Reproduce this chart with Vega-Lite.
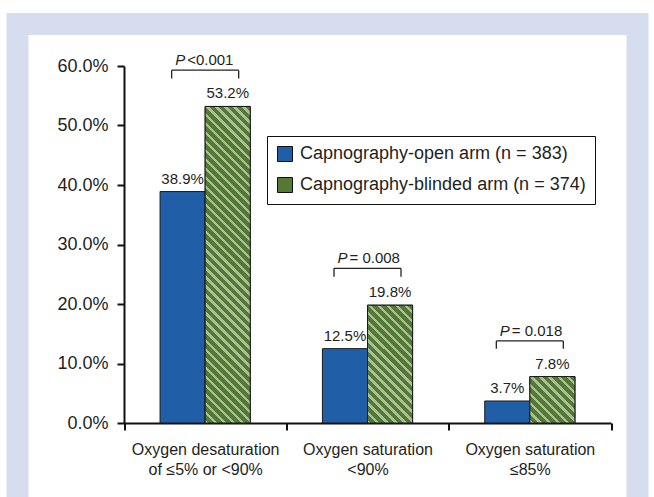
{
  "$schema": "https://vega.github.io/schema/vega-lite/v6.json",
  "autosize": {"type": "none"},
  "width": 620,
  "height": 490,
  "padding": {"left": 17.5, "top": 24, "right": 16.5, "bottom": -17},
  "background": "white",
  "config": {
    "font": "Liberation Sans",
    "view": {"fill": "white", "stroke": "#d5ddee", "strokeWidth": 22},
    "axis": {"grid": false, "domainColor": "#111111", "tickColor": "#111111", "domainWidth": 2, "tickWidth": 2, "tickSize": 7, "labelColor": "#231f20", "labelFont": "Liberation Sans"}
  },
  "datasets": {
    "bars": [
      {"cat": "Oxygen desaturation|of ≤5% or <90%", "arm": "open", "value": 38.9},
      {"cat": "Oxygen desaturation|of ≤5% or <90%", "arm": "blind", "value": 53.2},
      {"cat": "Oxygen saturation|<90%", "arm": "open", "value": 12.5},
      {"cat": "Oxygen saturation|<90%", "arm": "blind", "value": 19.8},
      {"cat": "Oxygen saturation|≤85%", "arm": "open", "value": 3.7},
      {"cat": "Oxygen saturation|≤85%", "arm": "blind", "value": 7.8}
    ],
    "brackets": [
      {"cat": "Oxygen desaturation|of ≤5% or <90%", "top": 59.3, "bottom": 57.9, "p": "<0.001"},
      {"cat": "Oxygen saturation|<90%", "top": 26.0, "bottom": 24.6, "p": "= 0.008"},
      {"cat": "Oxygen saturation|≤85%", "top": 13.8, "bottom": 12.5, "p": "= 0.018"}
    ]
  },
  "layer": [
    {
      "data": {"name": "bars"},
      "mark": {"type": "bar", "stroke": "#1a1a1a", "strokeWidth": 1},
      "encoding": {
        "x": {"field": "cat", "type": "nominal", "title": null,
          "scale": {"domain": ["Oxygen desaturation|of ≤5% or <90%", "Oxygen saturation|<90%", "Oxygen saturation|≤85%"], "range": [106.5, 593.5], "paddingInner": 0, "paddingOuter": 0},
          "axis": {"title": null, "orient": "bottom", "offset": -91, "labelAngle": 0, "labelExpr": "datum.value ? split(datum.value, '|') : ''", "tickBand": "extent", "labelFontSize": 16, "labelLineHeight": 20.5, "labelPadding": 11, "labelBaseline": "top"}},
        "xOffset": {"field": "arm", "type": "nominal", "scale": {"domain": ["open", "blind"], "paddingInner": 0, "paddingOuter": 0.8}},
        "y": {"field": "value", "type": "quantitative", "title": null,
          "scale": {"domain": [0, 60], "range": [399, 42], "nice": false, "zero": true},
          "axis": {"title": null, "orient": "left", "offset": -106.5, "values": [0, 10, 20, 30, 40, 50, 60], "labelExpr": "format(datum.value, '.1f') + '%'", "labelFontSize": 18, "labelPadding": 9}},
        "color": {"field": "arm", "type": "nominal",
          "scale": {"domain": ["open", "blind"], "range": ["#215ea8", "#537934"]},
          "legend": {"orient": "none", "legendX": 249.5, "legendY": 112, "title": null, "symbolType": "square", "symbolSize": 225, "labelFontSize": 18, "labelColor": "#231f20", "labelOffset": 6, "labelLimit": 400, "rowPadding": 11, "padding": 9, "strokeColor": "#111111", "symbolStrokeColor": "#111111", "symbolStrokeWidth": 1,
            "labelExpr": "datum.value === 'open' ? 'Capnography-open arm (n = 383)' : 'Capnography-blinded arm (n = 374)'",
            "encode": {"symbols": {"update": {
              "fill": [
                {"test": "datum.value === 'blind'", "value": {"gradient": "linear", "x1": 0, "y1": 1, "x2": 1, "y2": 0, "stops": [
                  {"offset": 0, "color": "#a9c096"}, {"offset": 0.114, "color": "#a9c096"}, {"offset": 0.114, "color": "#537934"}, {"offset": 0.3333, "color": "#537934"},
                  {"offset": 0.3333, "color": "#a9c096"}, {"offset": 0.4473, "color": "#a9c096"}, {"offset": 0.4473, "color": "#537934"}, {"offset": 0.6667, "color": "#537934"},
                  {"offset": 0.6667, "color": "#a9c096"}, {"offset": 0.7807, "color": "#a9c096"}, {"offset": 0.7807, "color": "#537934"}, {"offset": 1, "color": "#537934"}]}},
                {"value": "#215ea8"}],
              "stroke": {"value": "#111111"},
              "strokeWidth": {"value": 1}}}}
          }}
      }
    },
    {
      "data": {"name": "bars"},
      "transform": [{"filter": "datum.arm === 'blind'"}],
      "mark": {"type": "bar", "stroke": "#1a1a1a", "strokeWidth": 1},
      "encoding": {
        "x": {"field": "cat", "type": "nominal", "title": null},
        "xOffset": {"field": "arm", "type": "nominal", "scale": {"domain": ["open", "blind"], "paddingInner": 0, "paddingOuter": 0.8}},
        "y": {"field": "value", "type": "quantitative", "title": null},
        "fill": {
          "condition": [
            {"test": "datum.value > 50", "value": {"gradient": "linear", "x1": 0, "y1": 1, "x2": 0.1595, "y2": -0.11972, "stops": [
              {"offset": 0, "color": "#a9c096"}, {"offset": 0.0095, "color": "#a9c096"}, {"offset": 0.0095, "color": "#537934"}, {"offset": 0.025, "color": "#537934"},
              {"offset": 0.025, "color": "#a9c096"}, {"offset": 0.0345, "color": "#a9c096"}, {"offset": 0.0345, "color": "#537934"}, {"offset": 0.05, "color": "#537934"},
              {"offset": 0.05, "color": "#a9c096"}, {"offset": 0.0595, "color": "#a9c096"}, {"offset": 0.0595, "color": "#537934"}, {"offset": 0.075, "color": "#537934"},
              {"offset": 0.075, "color": "#a9c096"}, {"offset": 0.0845, "color": "#a9c096"}, {"offset": 0.0845, "color": "#537934"}, {"offset": 0.1, "color": "#537934"},
              {"offset": 0.1, "color": "#a9c096"}, {"offset": 0.1095, "color": "#a9c096"}, {"offset": 0.1095, "color": "#537934"}, {"offset": 0.125, "color": "#537934"},
              {"offset": 0.125, "color": "#a9c096"}, {"offset": 0.1345, "color": "#a9c096"}, {"offset": 0.1345, "color": "#537934"}, {"offset": 0.15, "color": "#537934"},
              {"offset": 0.15, "color": "#a9c096"}, {"offset": 0.1595, "color": "#a9c096"}, {"offset": 0.1595, "color": "#537934"}, {"offset": 0.175, "color": "#537934"},
              {"offset": 0.175, "color": "#a9c096"}, {"offset": 0.1845, "color": "#a9c096"}, {"offset": 0.1845, "color": "#537934"}, {"offset": 0.2, "color": "#537934"},
              {"offset": 0.2, "color": "#a9c096"}, {"offset": 0.2095, "color": "#a9c096"}, {"offset": 0.2095, "color": "#537934"}, {"offset": 0.225, "color": "#537934"},
              {"offset": 0.225, "color": "#a9c096"}, {"offset": 0.2345, "color": "#a9c096"}, {"offset": 0.2345, "color": "#537934"}, {"offset": 0.25, "color": "#537934"},
              {"offset": 0.25, "color": "#a9c096"}, {"offset": 0.2595, "color": "#a9c096"}, {"offset": 0.2595, "color": "#537934"}, {"offset": 0.275, "color": "#537934"},
              {"offset": 0.275, "color": "#a9c096"}, {"offset": 0.2845, "color": "#a9c096"}, {"offset": 0.2845, "color": "#537934"}, {"offset": 0.3, "color": "#537934"},
              {"offset": 0.3, "color": "#a9c096"}, {"offset": 0.3095, "color": "#a9c096"}, {"offset": 0.3095, "color": "#537934"}, {"offset": 0.325, "color": "#537934"},
              {"offset": 0.325, "color": "#a9c096"}, {"offset": 0.3345, "color": "#a9c096"}, {"offset": 0.3345, "color": "#537934"}, {"offset": 0.35, "color": "#537934"},
              {"offset": 0.35, "color": "#a9c096"}, {"offset": 0.3595, "color": "#a9c096"}, {"offset": 0.3595, "color": "#537934"}, {"offset": 0.375, "color": "#537934"},
              {"offset": 0.375, "color": "#a9c096"}, {"offset": 0.3845, "color": "#a9c096"}, {"offset": 0.3845, "color": "#537934"}, {"offset": 0.4, "color": "#537934"},
              {"offset": 0.4, "color": "#a9c096"}, {"offset": 0.4095, "color": "#a9c096"}, {"offset": 0.4095, "color": "#537934"}, {"offset": 0.425, "color": "#537934"},
              {"offset": 0.425, "color": "#a9c096"}, {"offset": 0.4345, "color": "#a9c096"}, {"offset": 0.4345, "color": "#537934"}, {"offset": 0.45, "color": "#537934"},
              {"offset": 0.45, "color": "#a9c096"}, {"offset": 0.4595, "color": "#a9c096"}, {"offset": 0.4595, "color": "#537934"}, {"offset": 0.475, "color": "#537934"},
              {"offset": 0.475, "color": "#a9c096"}, {"offset": 0.4845, "color": "#a9c096"}, {"offset": 0.4845, "color": "#537934"}, {"offset": 0.5, "color": "#537934"},
              {"offset": 0.5, "color": "#a9c096"}, {"offset": 0.5095, "color": "#a9c096"}, {"offset": 0.5095, "color": "#537934"}, {"offset": 0.525, "color": "#537934"},
              {"offset": 0.525, "color": "#a9c096"}, {"offset": 0.5345, "color": "#a9c096"}, {"offset": 0.5345, "color": "#537934"}, {"offset": 0.55, "color": "#537934"},
              {"offset": 0.55, "color": "#a9c096"}, {"offset": 0.5595, "color": "#a9c096"}, {"offset": 0.5595, "color": "#537934"}, {"offset": 0.575, "color": "#537934"},
              {"offset": 0.575, "color": "#a9c096"}, {"offset": 0.5845, "color": "#a9c096"}, {"offset": 0.5845, "color": "#537934"}, {"offset": 0.6, "color": "#537934"},
              {"offset": 0.6, "color": "#a9c096"}, {"offset": 0.6095, "color": "#a9c096"}, {"offset": 0.6095, "color": "#537934"}, {"offset": 0.625, "color": "#537934"},
              {"offset": 0.625, "color": "#a9c096"}, {"offset": 0.6345, "color": "#a9c096"}, {"offset": 0.6345, "color": "#537934"}, {"offset": 0.65, "color": "#537934"},
              {"offset": 0.65, "color": "#a9c096"}, {"offset": 0.6595, "color": "#a9c096"}, {"offset": 0.6595, "color": "#537934"}, {"offset": 0.675, "color": "#537934"},
              {"offset": 0.675, "color": "#a9c096"}, {"offset": 0.6845, "color": "#a9c096"}, {"offset": 0.6845, "color": "#537934"}, {"offset": 0.7, "color": "#537934"},
              {"offset": 0.7, "color": "#a9c096"}, {"offset": 0.7095, "color": "#a9c096"}, {"offset": 0.7095, "color": "#537934"}, {"offset": 0.725, "color": "#537934"},
              {"offset": 0.725, "color": "#a9c096"}, {"offset": 0.7345, "color": "#a9c096"}, {"offset": 0.7345, "color": "#537934"}, {"offset": 0.75, "color": "#537934"},
              {"offset": 0.75, "color": "#a9c096"}, {"offset": 0.7595, "color": "#a9c096"}, {"offset": 0.7595, "color": "#537934"}, {"offset": 0.775, "color": "#537934"},
              {"offset": 0.775, "color": "#a9c096"}, {"offset": 0.7845, "color": "#a9c096"}, {"offset": 0.7845, "color": "#537934"}, {"offset": 0.8, "color": "#537934"},
              {"offset": 0.8, "color": "#a9c096"}, {"offset": 0.8095, "color": "#a9c096"}, {"offset": 0.8095, "color": "#537934"}, {"offset": 0.825, "color": "#537934"},
              {"offset": 0.825, "color": "#a9c096"}, {"offset": 0.8345, "color": "#a9c096"}, {"offset": 0.8345, "color": "#537934"}, {"offset": 0.85, "color": "#537934"},
              {"offset": 0.85, "color": "#a9c096"}, {"offset": 0.8595, "color": "#a9c096"}, {"offset": 0.8595, "color": "#537934"}, {"offset": 0.875, "color": "#537934"},
              {"offset": 0.875, "color": "#a9c096"}, {"offset": 0.8845, "color": "#a9c096"}, {"offset": 0.8845, "color": "#537934"}, {"offset": 0.9, "color": "#537934"},
              {"offset": 0.9, "color": "#a9c096"}, {"offset": 0.9095, "color": "#a9c096"}, {"offset": 0.9095, "color": "#537934"}, {"offset": 0.925, "color": "#537934"},
              {"offset": 0.925, "color": "#a9c096"}, {"offset": 0.9345, "color": "#a9c096"}, {"offset": 0.9345, "color": "#537934"}, {"offset": 0.95, "color": "#537934"},
              {"offset": 0.95, "color": "#a9c096"}, {"offset": 0.9595, "color": "#a9c096"}, {"offset": 0.9595, "color": "#537934"}, {"offset": 0.975, "color": "#537934"},
              {"offset": 0.975, "color": "#a9c096"}, {"offset": 0.9845, "color": "#a9c096"}, {"offset": 0.9845, "color": "#537934"}, {"offset": 1, "color": "#537934"}]}},
            {"test": "datum.value > 15", "value": {"gradient": "linear", "x1": 0, "y1": 1, "x2": 0.4616, "y2": -0.20604, "stops": [
              {"offset": 0, "color": "#a9c096"}, {"offset": 0.0211, "color": "#a9c096"}, {"offset": 0.0211, "color": "#537934"}, {"offset": 0.05556, "color": "#537934"},
              {"offset": 0.05556, "color": "#a9c096"}, {"offset": 0.07666, "color": "#a9c096"}, {"offset": 0.07666, "color": "#537934"}, {"offset": 0.11111, "color": "#537934"},
              {"offset": 0.11111, "color": "#a9c096"}, {"offset": 0.13221, "color": "#a9c096"}, {"offset": 0.13221, "color": "#537934"}, {"offset": 0.16667, "color": "#537934"},
              {"offset": 0.16667, "color": "#a9c096"}, {"offset": 0.18777, "color": "#a9c096"}, {"offset": 0.18777, "color": "#537934"}, {"offset": 0.22222, "color": "#537934"},
              {"offset": 0.22222, "color": "#a9c096"}, {"offset": 0.24332, "color": "#a9c096"}, {"offset": 0.24332, "color": "#537934"}, {"offset": 0.27778, "color": "#537934"},
              {"offset": 0.27778, "color": "#a9c096"}, {"offset": 0.29888, "color": "#a9c096"}, {"offset": 0.29888, "color": "#537934"}, {"offset": 0.33333, "color": "#537934"},
              {"offset": 0.33333, "color": "#a9c096"}, {"offset": 0.35443, "color": "#a9c096"}, {"offset": 0.35443, "color": "#537934"}, {"offset": 0.38889, "color": "#537934"},
              {"offset": 0.38889, "color": "#a9c096"}, {"offset": 0.40999, "color": "#a9c096"}, {"offset": 0.40999, "color": "#537934"}, {"offset": 0.44444, "color": "#537934"},
              {"offset": 0.44444, "color": "#a9c096"}, {"offset": 0.46554, "color": "#a9c096"}, {"offset": 0.46554, "color": "#537934"}, {"offset": 0.5, "color": "#537934"},
              {"offset": 0.5, "color": "#a9c096"}, {"offset": 0.5211, "color": "#a9c096"}, {"offset": 0.5211, "color": "#537934"}, {"offset": 0.55556, "color": "#537934"},
              {"offset": 0.55556, "color": "#a9c096"}, {"offset": 0.57666, "color": "#a9c096"}, {"offset": 0.57666, "color": "#537934"}, {"offset": 0.61111, "color": "#537934"},
              {"offset": 0.61111, "color": "#a9c096"}, {"offset": 0.63221, "color": "#a9c096"}, {"offset": 0.63221, "color": "#537934"}, {"offset": 0.66667, "color": "#537934"},
              {"offset": 0.66667, "color": "#a9c096"}, {"offset": 0.68777, "color": "#a9c096"}, {"offset": 0.68777, "color": "#537934"}, {"offset": 0.72222, "color": "#537934"},
              {"offset": 0.72222, "color": "#a9c096"}, {"offset": 0.74332, "color": "#a9c096"}, {"offset": 0.74332, "color": "#537934"}, {"offset": 0.77778, "color": "#537934"},
              {"offset": 0.77778, "color": "#a9c096"}, {"offset": 0.79888, "color": "#a9c096"}, {"offset": 0.79888, "color": "#537934"}, {"offset": 0.83333, "color": "#537934"},
              {"offset": 0.83333, "color": "#a9c096"}, {"offset": 0.85443, "color": "#a9c096"}, {"offset": 0.85443, "color": "#537934"}, {"offset": 0.88889, "color": "#537934"},
              {"offset": 0.88889, "color": "#a9c096"}, {"offset": 0.90999, "color": "#a9c096"}, {"offset": 0.90999, "color": "#537934"}, {"offset": 0.94444, "color": "#537934"},
              {"offset": 0.94444, "color": "#a9c096"}, {"offset": 0.96554, "color": "#a9c096"}, {"offset": 0.96554, "color": "#537934"}, {"offset": 1, "color": "#537934"}]}}
          ],
          "value": {"gradient": "linear", "x1": 0, "y1": 1, "x2": 0.98535, "y2": -0.0142, "stops": [
            {"offset": 0, "color": "#a9c096"}, {"offset": 0.0375, "color": "#a9c096"}, {"offset": 0.0375, "color": "#537934"}, {"offset": 0.1, "color": "#537934"},
            {"offset": 0.1, "color": "#a9c096"}, {"offset": 0.1375, "color": "#a9c096"}, {"offset": 0.1375, "color": "#537934"}, {"offset": 0.2, "color": "#537934"},
            {"offset": 0.2, "color": "#a9c096"}, {"offset": 0.2375, "color": "#a9c096"}, {"offset": 0.2375, "color": "#537934"}, {"offset": 0.3, "color": "#537934"},
            {"offset": 0.3, "color": "#a9c096"}, {"offset": 0.3375, "color": "#a9c096"}, {"offset": 0.3375, "color": "#537934"}, {"offset": 0.4, "color": "#537934"},
            {"offset": 0.4, "color": "#a9c096"}, {"offset": 0.4375, "color": "#a9c096"}, {"offset": 0.4375, "color": "#537934"}, {"offset": 0.5, "color": "#537934"},
            {"offset": 0.5, "color": "#a9c096"}, {"offset": 0.5375, "color": "#a9c096"}, {"offset": 0.5375, "color": "#537934"}, {"offset": 0.6, "color": "#537934"},
            {"offset": 0.6, "color": "#a9c096"}, {"offset": 0.6375, "color": "#a9c096"}, {"offset": 0.6375, "color": "#537934"}, {"offset": 0.7, "color": "#537934"},
            {"offset": 0.7, "color": "#a9c096"}, {"offset": 0.7375, "color": "#a9c096"}, {"offset": 0.7375, "color": "#537934"}, {"offset": 0.8, "color": "#537934"},
            {"offset": 0.8, "color": "#a9c096"}, {"offset": 0.8375, "color": "#a9c096"}, {"offset": 0.8375, "color": "#537934"}, {"offset": 0.9, "color": "#537934"},
            {"offset": 0.9, "color": "#a9c096"}, {"offset": 0.9375, "color": "#a9c096"}, {"offset": 0.9375, "color": "#537934"}, {"offset": 1, "color": "#537934"}]}
        }
      }
    },
    {
      "data": {"name": "bars"},
      "transform": [{"calculate": "format(datum.value, '.1f') + '%'", "as": "label"}],
      "mark": {"type": "text", "fontSize": 15, "baseline": "alphabetic", "dy": -8, "color": "#231f20"},
      "encoding": {
        "x": {"field": "cat", "type": "nominal", "title": null},
        "xOffset": {"field": "arm", "type": "nominal", "scale": {"domain": ["open", "blind"], "paddingInner": 0, "paddingOuter": 0.8}},
        "y": {"field": "value", "type": "quantitative", "title": null},
        "text": {"field": "label"}
      }
    },
    {
      "data": {"name": "brackets"},
      "mark": {"type": "tick", "size": 67, "thickness": 1.3, "color": "#222222", "opacity": 1},
      "encoding": {
        "x": {"field": "cat", "type": "nominal", "title": null},
        "y": {"field": "top", "type": "quantitative", "title": null}
      }
    },
    {
      "data": {"name": "brackets"},
      "mark": {"type": "rule", "color": "#222222", "strokeWidth": 1.3, "xOffset": -33.5},
      "encoding": {
        "x": {"field": "cat", "type": "nominal", "title": null, "bandPosition": 0.5},
        "y": {"field": "top", "type": "quantitative", "title": null},
        "y2": {"field": "bottom"}
      }
    },
    {
      "data": {"name": "brackets"},
      "mark": {"type": "rule", "color": "#222222", "strokeWidth": 1.3, "xOffset": 33.5},
      "encoding": {
        "x": {"field": "cat", "type": "nominal", "title": null, "bandPosition": 0.5},
        "y": {"field": "top", "type": "quantitative", "title": null},
        "y2": {"field": "bottom"}
      }
    },
    {
      "data": {"name": "brackets"},
      "mark": {"type": "text", "text": "P", "fontStyle": "italic", "fontSize": 15, "align": "right", "baseline": "alphabetic", "dx": -20, "dy": -5, "color": "#231f20"},
      "encoding": {
        "x": {"field": "cat", "type": "nominal", "title": null, "bandPosition": 0.5},
        "y": {"field": "top", "type": "quantitative", "title": null}
      }
    },
    {
      "data": {"name": "brackets"},
      "mark": {"type": "text", "fontSize": 15, "align": "left", "baseline": "alphabetic", "dx": -18, "dy": -5, "color": "#231f20"},
      "encoding": {
        "x": {"field": "cat", "type": "nominal", "title": null, "bandPosition": 0.5},
        "y": {"field": "top", "type": "quantitative", "title": null},
        "text": {"field": "p"}
      }
    }
  ]
}
